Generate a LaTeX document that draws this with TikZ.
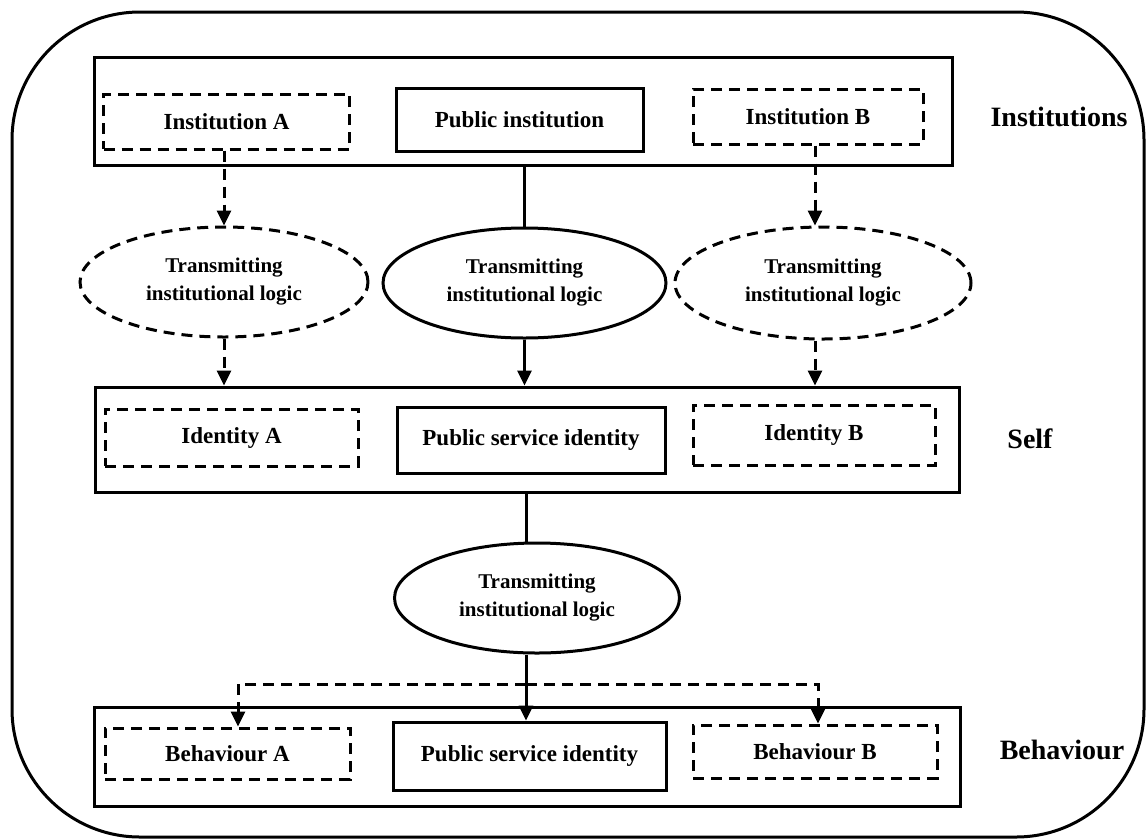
\documentclass[tikz,border=0pt]{standalone}
\usepackage{fontspec}
\setmainfont{Liberation Serif}
\usetikzlibrary{arrows.meta,shapes.geometric}

\tikzset{
  lw/.style={line width=3pt},
  dashpat/.style={dash pattern=on 11pt off 7pt},
  layerbox/.style={draw, lw, inner sep=0pt},
  solidbox/.style={draw, lw, inner sep=0pt, font=\fontsize{23}{28}\selectfont\bfseries},
  dashbox/.style={solidbox, dashpat},
  logic/.style={draw, lw, ellipse, inner sep=0pt, align=center,
                font=\fontsize{21}{28}\selectfont\bfseries},
  dashlogic/.style={logic, dashpat},
  layerlabel/.style={font=\fontsize{28}{32}\selectfont\bfseries},
  link/.style={lw},
  arr/.style={lw, -{Triangle[length=15pt,width=14pt]}},
  darr/.style={arr, dashpat},
}

\begin{document}
\begin{tikzpicture}[x=1pt,y=-1pt]
\useasboundingbox (0,0) rectangle (1146,839);

% outer frame
\draw[lw, rounded corners=128pt] (12,12) rectangle (1144,837);

% institutions layer
\node[layerbox, minimum width=858pt, minimum height=108pt] (inst) at (523,111) {};
\node[dashbox, minimum width=246pt, minimum height=55pt] (instA) at (226.5,121.5) {Institution A};
\node[solidbox, minimum width=247pt, minimum height=63pt] (pubInst) at (519.5,119.5) {Public institution};
\node[dashbox, minimum width=230pt, minimum height=55pt] (instB) at (808,116.5) {Institution B};
\node[layerlabel] (lblInst) at (1059,117) {Institutions};

% transmitting ellipses
\node[dashlogic, minimum width=288pt, minimum height=110pt] (ellA) at (224,282) {Transmitting\\institutional logic};
\node[logic, minimum width=283pt, minimum height=110pt] (ellM) at (524.5,283) {Transmitting\\institutional logic};
\node[dashlogic, minimum width=296pt, minimum height=112pt] (ellB) at (823,283) {Transmitting\\institutional logic};

% self layer
\node[layerbox, minimum width=864pt, minimum height=105pt] (self) at (527,439.5) {};
\node[dashbox, minimum width=253pt, minimum height=57pt] (idA) at (231.5,437.5) {Identity A};
\node[solidbox, minimum width=268pt, minimum height=66pt] (psiS) at (531,440) {Public service identity};
\node[dashbox, minimum width=242pt, minimum height=60pt] (idB) at (814,435) {Identity B};
\node[layerlabel] (lblSelf) at (1030,439) {Self};

% lower ellipse
\node[logic, minimum width=285pt, minimum height=110pt] (ell3) at (537,598) {Transmitting\\institutional logic};

% behaviour layer
\node[layerbox, minimum width=866pt, minimum height=99pt] (beh) at (527,756.5) {};
\node[dashbox, minimum width=245pt, minimum height=51pt] (behA) at (227.5,753.5) {Behaviour A};
\node[solidbox, minimum width=273pt, minimum height=68pt] (psiB) at (529.5,756) {Public service identity};
\node[dashbox, minimum width=244pt, minimum height=53pt] (behB) at (815,751.5) {Behaviour B};
\node[layerlabel] (lblBeh) at (1062,750) {Behaviour};

% connectors
\coordinate (spine) at (526,0);
\coordinate (colB) at (815,0);
\coordinate (split) at (526,684);

\draw[darr] (ellA.north |- instA.south) -- (ellA.north);
\draw[link] (ellM.north |- inst.south) -- (ellM.north);
\draw[darr] (colB |- instB.south) -- (colB |- ellB.north);

\draw[darr] (ellA.south) -- (ellA.south |- self.north);
\draw[arr] (ellM.south) -- (ellM.south |- self.north);
\draw[darr] (colB |- ellB.south) -- (colB |- self.north);

\draw[link] (spine |- self.south) -- (spine |- ell3.north);
\draw[arr] (spine |- ell3.south) -- (spine |- psiB.north);

\draw[darr] (split) -| ([xshift=10.5pt]behA.north);
\draw[darr] (split) -| ([xshift=3pt]behB.north);
\end{tikzpicture}
\end{document}
